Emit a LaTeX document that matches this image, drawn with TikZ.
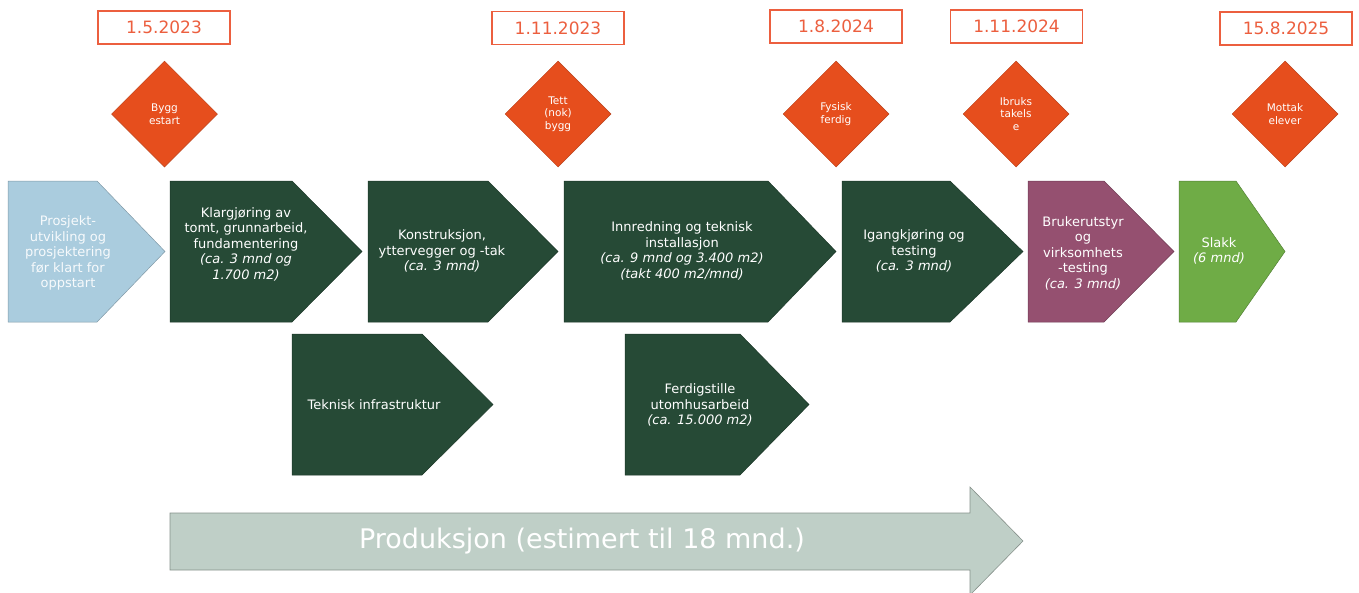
\documentclass[tikz,border=0pt]{standalone}
\usepackage{fontspec}
\setmainfont{DejaVu Sans}
\usetikzlibrary{shapes,positioning}

\definecolor{darkphase}{HTML}{264A36}
\definecolor{prephase}{HTML}{AACCDE}
\definecolor{userphase}{HTML}{955070}
\definecolor{slackphase}{HTML}{6FAC46}
\definecolor{prodgray}{HTML}{BFCFC7}
\definecolor{dateorange}{HTML}{EC5F3F}
\definecolor{msorange}{HTML}{E64E1D}

% chevron: colour, left, body end, tip, top, bottom
\newcommand{\phasebox}[6]{%
  \draw[fill=#1, draw=#1!75!black, line width=0.5pt] (#2,#5) -- (#3,#5) -- (#4,{(#5+#6)/2}) -- (#3,#6) -- (#2,#6) -- cycle;}

\begin{document}
\begin{tikzpicture}[x=1pt, y=-1pt,
    phase text/.style={text=white, align=center, inner sep=0pt, font=\fontsize{13}{15.5}\selectfont},
    date box/.style={rectangle, draw=dateorange, line width=1.2pt, fill=white, minimum width=132pt, minimum height=33pt, text=dateorange, font=\fontsize{17}{18}\selectfont},
    milestone/.style={diamond, fill=msorange, draw=msorange!80!black, line width=0.5pt, minimum width=106pt, minimum height=106pt, inner sep=0pt, text=white, align=center, font=\fontsize{10.5}{12.5}\selectfont}]
    \useasboundingbox (0,0) rectangle (1359,592);

    % dates and milestones
    \node[date box] (d1) at (164,27.5) {1.5.2023};
    \node[date box] (d2) at (558,28) {1.11.2023};
    \node[date box] (d3) at (836,26.5) {1.8.2024};
    \node[date box] (d4) at (1016.5,26.5) {1.11.2024};
    \node[date box] (d5) at (1286,28.5) {15.8.2025};
    \node[milestone] (m1) at (164.5,114) {Bygg\\estart};
    \node[milestone] (m2) at (558,114) {Tett\\(nok)\\bygg};
    \node[milestone] (m3) at (836,114) {Fysisk\\ferdig};
    \node[milestone] (m4) at (1016,114) {Ibruks\\takels\\e};
    \node[milestone] (m5) at (1285,114) {Mottak\\elever};

    % phases
    \phasebox{prephase}{8}{97}{165}{181}{322}
    \phasebox{darkphase}{170}{292}{362}{181}{322}
    \phasebox{darkphase}{368}{488}{558}{181}{322}
    \phasebox{darkphase}{564}{768}{836}{181}{322}
    \phasebox{darkphase}{842}{950}{1023}{181}{322}
    \phasebox{userphase}{1028}{1104}{1174}{181}{322}
    \phasebox{slackphase}{1179}{1236}{1285}{181}{322}
    \phasebox{darkphase}{292}{422}{493}{334}{475}
    \phasebox{darkphase}{625}{740}{809}{334}{475}

    \node[phase text, text=white!90!prephase] (prosjekt) at (68,253) {Prosjekt-\\utvikling og\\prosjektering\\før klart for\\oppstart};
    \node[phase text] (klargjoring) at (246,244) {Klargjøring av\\tomt, grunnarbeid,\\fundamentering\\\textit{(ca. 3 mnd og}\\\textit{1.700 m2)}};
    \node[phase text] (konstruksjon) at (442,251) {Konstruksjon,\\yttervegger og -tak\\\textit{(ca. 3 mnd)}};
    \node[phase text] (innredning) at (682,251) {Innredning og teknisk\\installasjon\\\textit{(ca. 9 mnd og 3.400 m2)}\\\textit{(takt 400 m2/mnd)}};
    \node[phase text] (igangkjoring) at (914,251) {Igangkjøring og\\testing\\\textit{(ca. 3 mnd)}};
    \node[phase text] (brukerutstyr) at (1083,253) {Brukerutstyr\\og\\virksomhets\\-testing\\\textit{(ca. 3 mnd)}};
    \node[phase text] (slakk) at (1219,251) {Slakk\\\textit{(6 mnd)}};
    \node[phase text] (infrastruktur) at (374,405) {Teknisk infrastruktur};
    \node[phase text] (utomhus) at (700,405) {Ferdigstille\\utomhusarbeid\\\textit{(ca. 15.000 m2)}};

    % production period
    \draw[fill=prodgray, draw=prodgray!70!black, line width=0.6pt] (170,513) -- (970,513) -- (970,487) -- (1023,541) -- (970,595) -- (970,570) -- (170,570) -- cycle;
    \node[text=white, font=\fontsize{27}{30}\selectfont] (produksjon) at (582,541) {Produksjon (estimert til 18 mnd.)};
\end{tikzpicture}
\end{document}
